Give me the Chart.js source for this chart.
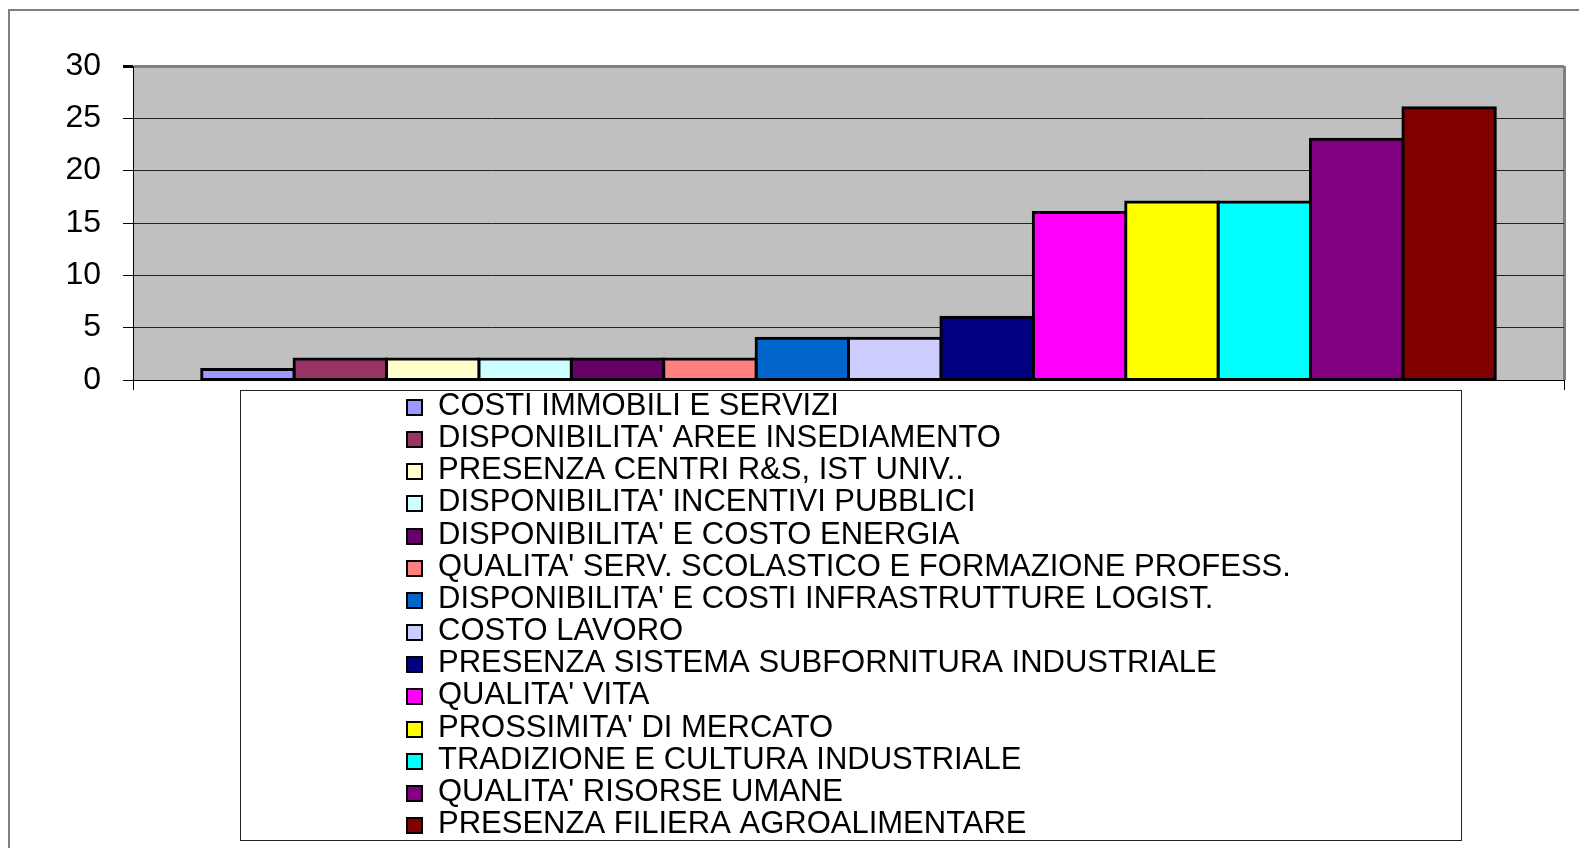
<!DOCTYPE html>
<html>
<head>
<meta charset="utf-8">
<script src="https://cdn.jsdelivr.net/npm/chart.js@4"></script>
<style>
  body { margin: 0; background: #fff; }
  canvas { display: block; }
</style>
</head>
<body>
<canvas id="factorsChart" width="1579" height="848"></canvas>
<script>
// data
const factors = [
    "COSTI IMMOBILI E SERVIZI",
    "DISPONIBILITA' AREE INSEDIAMENTO",
    "PRESENZA CENTRI R&S, IST UNIV..",
    "DISPONIBILITA' INCENTIVI PUBBLICI",
    "DISPONIBILITA' E COSTO ENERGIA",
    "QUALITA' SERV. SCOLASTICO E FORMAZIONE PROFESS.",
    "DISPONIBILITA' E COSTI INFRASTRUTTURE LOGIST.",
    "COSTO LAVORO",
    "PRESENZA SISTEMA SUBFORNITURA INDUSTRIALE",
    "QUALITA' VITA",
    "PROSSIMITA' DI MERCATO",
    "TRADIZIONE E CULTURA INDUSTRIALE",
    "QUALITA' RISORSE UMANE",
    "PRESENZA FILIERA AGROALIMENTARE"
];
const counts = [1, 2, 2, 2, 2, 2, 4, 4, 6, 16, 17, 17, 23, 26];
const colors = [
    "#9999FF", "#993366", "#FFFFCC", "#CCFFFF", "#660066", "#FF8080", "#0066CC",
    "#CCCCFF", "#000080", "#FF00FF", "#FFFF00", "#00FFFF", "#800080", "#800000"
];
const yTicks = [0, 5, 10, 15, 20, 25, 30];

const FONT = '"Liberation Sans", Arial, sans-serif';

// white page with the grey frame line, grey plot area
const background = {
    id: 'background',
    beforeDraw(chart) {
        const { ctx, chartArea: a, width, height } = chart;
        ctx.save();
        ctx.fillStyle = '#fff';
        ctx.fillRect(0, 0, width, height);
        ctx.strokeStyle = '#808080';
        ctx.lineWidth = 2;
        ctx.beginPath();
        ctx.moveTo(9, height);
        ctx.lineTo(9, 10);
        ctx.lineTo(width, 10);
        ctx.stroke();
        ctx.fillStyle = '#C0C0C0';
        ctx.fillRect(a.left, a.top, a.right - a.left, a.bottom - a.top);
        ctx.restore();
    }
};

// Excel style legend: one column inside a bordered box under the plot
const boxLegend = {
    id: 'boxLegend',
    afterDraw(chart) {
        const { ctx, chartArea } = chart;
        const left = 240, right = 1461;
        const top = chartArea.bottom + 10, bottom = 840;
        ctx.save();
        ctx.fillStyle = '#fff';
        ctx.fillRect(left, top, right - left, bottom - top);
        ctx.strokeStyle = '#222';
        ctx.lineWidth = 1;
        ctx.strokeRect(left + 0.5, top + 0.5, right - left, bottom - top);
        ctx.font = '31px ' + FONT;
        ctx.textBaseline = 'alphabetic';
        ctx.textAlign = 'left';
        chart.data.datasets.forEach((ds, i) => {
            const base = Math.round(top + 25 + i * 32.15);
            ctx.fillStyle = '#000';
            ctx.fillRect(406, base - 16, 17, 17);
            ctx.fillStyle = ds.backgroundColor;
            ctx.fillRect(408, base - 14, 13, 13);
            ctx.fillStyle = '#000';
            ctx.fillText(ds.label, 438, base);
        });
        ctx.restore();
    }
};

const ctx = document.getElementById('factorsChart').getContext('2d');
new Chart(ctx, {
    type: 'bar',
    data: {
        labels: [''],
        datasets: factors.map((name, i) => ({
            label: name,
            data: [counts[i]],
            backgroundColor: colors[i],
            borderColor: '#000',
            borderWidth: 3,
            inflateAmount: 1.5,
            borderSkipped: false,
            barPercentage: 1,
            categoryPercentage: 0.904
        }))
    },
    options: {
        responsive: false,
        animation: false,
        layout: { padding: { top: 66, right: 15, bottom: 458, left: 0 } },
        plugins: {
            legend: { display: false },
            tooltip: { enabled: false }
        },
        scales: {
            x: {
                offset: true,
                grid: {
                    offset: true,
                    drawOnChartArea: true,
                    drawTicks: true,
                    tickLength: 10,
                    color: (c) => c.index === 0 ? '#000' : '#808080',
                    lineWidth: (c) => c.index === 0 ? 1 : 3,
                    tickColor: '#000',
                    tickWidth: 1
                },
                border: { color: '#000', width: 1 },
                ticks: { display: false },
                afterFit(scale) { scale.height = 10; }
            },
            y: {
                min: 0,
                max: 30,
                afterBuildTicks(scale) {
                    scale.ticks = yTicks.map(v => ({ value: v }));
                },
                grid: {
                    color: (c) => c.tick && c.tick.value === 30 ? '#808080' : '#222',
                    lineWidth: (c) => c.tick && c.tick.value === 30 ? 3 : 1,
                    tickLength: 10,
                    tickColor: '#000'
                },
                border: { color: '#000', width: 1 },
                ticks: {
                    color: '#000',
                    padding: 22,
                    font: { family: FONT, size: 32 }
                },
                afterFit(scale) { scale.width = 133; }
            }
        }
    },
    plugins: [background, boxLegend]
});
</script>
</body>
</html>
